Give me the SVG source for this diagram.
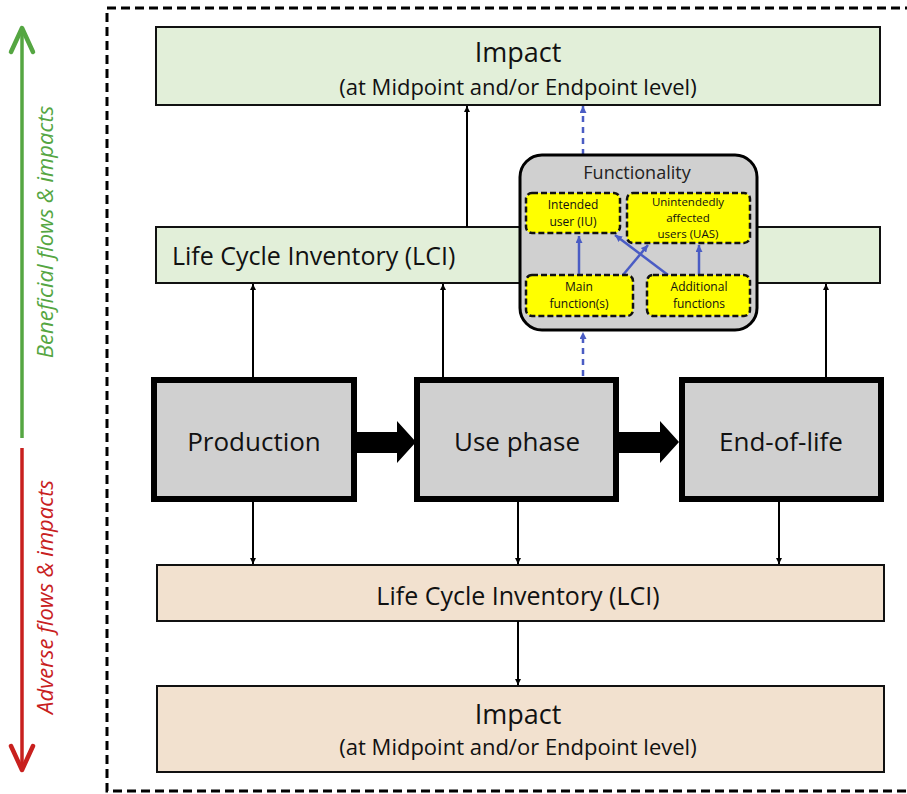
<svg xmlns="http://www.w3.org/2000/svg" width="907" height="794" viewBox="0 0 907 794">
<defs>
<style>
.t{font-family:"Open Sans","Noto Sans",sans-serif;fill:#111;text-anchor:middle}
.box{stroke:#111;stroke-width:2}
.stage{fill:#d0d0d0;stroke:#000;stroke-width:6}
.yel{fill:#ffff00;stroke:#111;stroke-width:2.5;stroke-dasharray:6 3}
.blk{stroke:#000;stroke-width:2;fill:none}
.blu{stroke:#4a5cc4;stroke-width:2.5;fill:none}
.bludash{stroke:#4a5cc4;stroke-width:2.5;fill:none;stroke-dasharray:6 5}
.ys{font-size:12px}
.big{font-size:27px}
.sub{font-size:22px}
.lci{font-size:25px}
.st{font-size:26px}
</style>
<marker id="ah" viewBox="0 0 10 10" refX="10" refY="5" markerWidth="6" markerHeight="6" orient="auto" markerUnits="userSpaceOnUse">
<path d="M0,0 L10,5 L0,10 z" fill="#000"/>
</marker>
<marker id="ahb" viewBox="0 0 10 10" refX="10" refY="5" markerWidth="7" markerHeight="7" orient="auto" markerUnits="userSpaceOnUse">
<path d="M0,0 L10,5 L0,10 z" fill="#4a5cc4"/>
</marker>
</defs>
<rect width="907" height="794" fill="#fff"/>

<!-- outer dashed frame -->
<rect x="107" y="8" width="820" height="783" fill="none" stroke="#000" stroke-width="3" stroke-dasharray="9 5"/>

<!-- side arrows -->
<g id="beneficial">
<line x1="22" y1="438" x2="22" y2="30" stroke="#55a642" stroke-width="3.5"/>
<polyline points="11,52 22,28 33,52" fill="none" stroke="#55a642" stroke-width="4.5" stroke-linecap="round" stroke-linejoin="round"/>
<text class="t" transform="translate(53,232) rotate(-90)" style="font-size:22px;font-style:italic;fill:#55a642">Beneficial flows &amp; impacts</text>
</g>
<g id="adverse">
<line x1="22" y1="448" x2="22" y2="766" stroke="#c8201e" stroke-width="3.5"/>
<polyline points="11,746 22,770 33,746" fill="none" stroke="#c8201e" stroke-width="4.5" stroke-linecap="round" stroke-linejoin="round"/>
<text class="t" transform="translate(53,597) rotate(-90)" style="font-size:22px;font-style:italic;fill:#c8201e">Adverse flows &amp; impacts</text>
</g>

<g id="impact-top">
<rect class="box" x="156" y="27" width="724" height="78" fill="#e2efd9"/>
<text class="t big" x="518" y="62">Impact</text>
<text class="t sub" x="518" y="95">(at Midpoint and/or Endpoint level)</text>
</g>

<g id="lci-top">
<rect class="box" x="156" y="227" width="724" height="56" fill="#e2efd9"/>
<text class="t lci" x="172" y="265" style="text-anchor:start">Life Cycle Inventory (LCI)</text>
</g>

<g id="lci-bottom">
<rect class="box" x="157" y="565" width="727" height="56" fill="#f2e1cf"/>
<text class="t lci" x="518" y="605">Life Cycle Inventory (LCI)</text>
</g>

<g id="impact-bottom">
<rect class="box" x="157" y="686" width="727" height="86" fill="#f2e1cf"/>
<text class="t big" x="518" y="724">Impact</text>
<text class="t sub" x="518" y="755">(at Midpoint and/or Endpoint level)</text>
</g>

<g id="connectors">
<line class="blk" x1="253" y1="378" x2="253" y2="284" marker-end="url(#ah)"/>
<line class="blk" x1="443" y1="378" x2="443" y2="284" marker-end="url(#ah)"/>
<line class="blk" x1="826" y1="378" x2="826" y2="284" marker-end="url(#ah)"/>
<line class="blk" x1="467" y1="227" x2="467" y2="106" marker-end="url(#ah)"/>
<line class="blk" x1="253" y1="501" x2="253" y2="564" marker-end="url(#ah)"/>
<line class="blk" x1="518" y1="501" x2="518" y2="564" marker-end="url(#ah)"/>
<line class="blk" x1="779" y1="501" x2="779" y2="564" marker-end="url(#ah)"/>
<line class="blk" x1="518" y1="621" x2="518" y2="685" marker-end="url(#ah)"/>
<path d="M357,432 H397 V421 L416,442 L397,463 V453 H357 z" fill="#000"/>
<path d="M619,432 H660 V421 L679,442 L660,463 V453 H619 z" fill="#000"/>
<line class="bludash" x1="583" y1="376" x2="583" y2="332" marker-end="url(#ahb)"/>
<line class="bludash" x1="583" y1="155" x2="583" y2="106" marker-end="url(#ahb)"/>
</g>

<g id="production">
<rect class="stage" x="154" y="380" width="200" height="119"/>
<text class="t st" x="254" y="451">Production</text>
</g>
<g id="use-phase">
<rect class="stage" x="417" y="380" width="199" height="119"/>
<text class="t st" x="517" y="451">Use phase</text>
</g>
<g id="end-of-life">
<rect class="stage" x="682" y="380" width="199" height="119"/>
<text class="t st" x="781" y="451">End-of-life</text>
</g>

<g id="functionality">
<rect x="520" y="155" width="237" height="175" rx="22" fill="#d0d0d0" stroke="#000" stroke-width="3"/>
<text class="t" x="637" y="179" style="font-size:18px;fill:#222">Functionality</text>
</g>
<g id="functionality-links">
<line class="blu" x1="579" y1="275" x2="579" y2="236" marker-end="url(#ahb)"/>
<line class="blu" x1="623" y1="275" x2="648" y2="245" marker-end="url(#ahb)"/>
<line class="blu" x1="668" y1="275" x2="615" y2="235" marker-end="url(#ahb)"/>
<line class="blu" x1="699" y1="275" x2="699" y2="245" marker-end="url(#ahb)"/>
</g>
<g id="intended-user">
<rect class="yel" x="526" y="193" width="94" height="40" rx="6"/>
<text class="t ys" x="573" y="209">Intended</text>
<text class="t ys" x="573" y="226">user (IU)</text>
</g>
<g id="unintended-users">
<rect class="yel" x="627" y="193" width="123" height="50" rx="6"/>
<text class="t" x="688" y="206" style="font-size:11.5px">Unintendedly</text>
<text class="t" x="688" y="222" style="font-size:11.5px">affected</text>
<text class="t" x="688" y="238" style="font-size:11.5px">users (UAS)</text>
</g>
<g id="main-function">
<rect class="yel" x="526" y="275" width="107" height="41" rx="6"/>
<text class="t ys" x="579" y="291">Main</text>
<text class="t ys" x="579" y="308">function(s)</text>
</g>
<g id="additional-functions">
<rect class="yel" x="647" y="275" width="103" height="41" rx="6"/>
<text class="t ys" x="699" y="291">Additional</text>
<text class="t ys" x="699" y="308">functions</text>
</g>
</svg>
